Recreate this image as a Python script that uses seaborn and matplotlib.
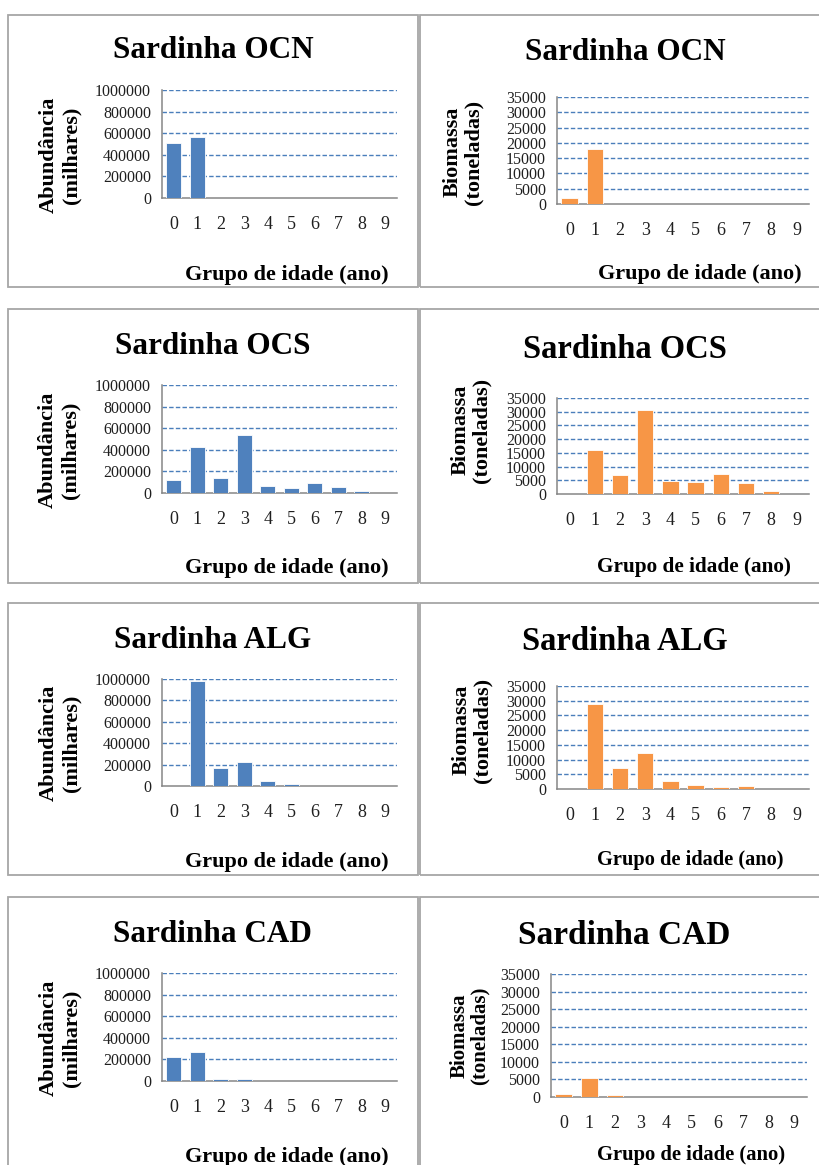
import matplotlib
matplotlib.use("Agg")
import matplotlib.pyplot as plt
from matplotlib.patches import Rectangle
import seaborn as sns
import numpy as np

# ---------------- data ----------------
ages = ["0", "1", "2", "3", "4", "5", "6", "7", "8", "9"]
regions = ["OCN", "OCS", "ALG", "CAD"]

ocn_abund = [512000, 562000, 0, 0, 0, 0, 0, 0, 0, 0]
ocn_biom = [2100, 17900, 0, 0, 0, 0, 0, 0, 0, 0]
ocs_abund = [124000, 425000, 140000, 537000, 65000, 50000, 90000, 53000, 15000, 1000]
ocs_biom = [0, 15900, 7100, 30600, 4750, 4400, 7300, 4000, 950, 0]
alg_abund = [0, 981000, 165000, 224000, 47000, 18000, 2000, 0, 0, 0]
alg_biom = [0, 29000, 7100, 12100, 2800, 1200, 650, 900, 0, 0]
cad_abund = [223000, 266000, 22000, 15000, 0, 0, 0, 0, 0, 0]
cad_biom = [750, 5300, 450, 0, 0, 0, 0, 0, 0, 0]

abund_ticks = [0, 200000, 400000, 600000, 800000, 1000000]
biom_ticks = [0, 5000, 10000, 15000, 20000, 25000, 30000, 35000]

title_prefix = "Sardinha"
abund_label = "Abundância\n(milhares)"
biom_label = "Biomassa\n(toneladas)"
xlabel_text = "Grupo de idade (ano)"

# ---------------- style ----------------
sns.set_style("white")
plt.rcParams["font.family"] = ["Liberation Serif", "DejaVu Serif"]

W, H = 819, 1165
fig = plt.figure(figsize=(W / 100, H / 100), dpi=100)
fig.patch.set_facecolor("white")

BLUE = "#4F81BD"
ORANGE = "#F79646"
GRID = "#4A7EBB"
AXC = "#868686"
TXT = "#1F1F1F"


def fbox(x0, y0, x1, y1):
    return [x0 / W, 1 - y1 / H, (x1 - x0) / W, (y1 - y0) / H]


# panel borders (pixel coords)
rows_y = [(15, 287), (309, 583), (603, 875), (897, 1175)]
for (y0, y1) in rows_y:
    fig.patches.append(Rectangle((8 / W, 1 - y1 / H), (418 - 8) / W, (y1 - y0) / H,
                                 transform=fig.transFigure, fill=False,
                                 edgecolor="#A6A6A6", lw=1.3))
    fig.patches.append(Rectangle((420 / W, 1 - y1 / H), (830 - 420) / W, (y1 - y0) / H,
                                 transform=fig.transFigure, fill=False,
                                 edgecolor="#A6A6A6", lw=1.3))

# axes boxes: (x0, ytop, x1, ybottom)
left_axes = [(162, 90, 397, 198), (162, 385, 397, 493), (162, 679, 397, 786), (162, 973, 397, 1081)]
right_axes = [(557, 97, 809, 204), (557, 398, 809, 494), (557, 686, 809, 789), (551, 974, 807, 1097)]

left_title = [(213, 51), (213, 347), (213, 640), (212, 935)]
right_title = [(625, 52), (625, 349), (625, 642), (624, 935)]
right_title_size = [22.5, 23.5, 23.5, 24]

left_xlab = [(287, 275), (287, 568), (287, 862), (287, 1157)]
right_xlab = [(700, 274), (694, 567), (690, 860), (691, 1155)]
right_xlab_size = [16, 15.3, 14.7, 14.9]

left_ylab = [(60, 155), (59, 450), (60, 743), (60, 1038)]
right_ylab = [(463, 152), (471, 430), (472, 730), (470, 1036)]
right_ylab_size = [16, 16, 16, 15]

abund_series = [ocn_abund, ocs_abund, alg_abund, cad_abund]
biom_series = [ocn_biom, ocs_biom, alg_biom, cad_biom]


def draw_panel(box, values, color, ticks, ymax):
    x0, yt, x1, yb = box
    ax = fig.add_axes(fbox(x0, yt, x1, yb))
    sns.barplot(x=ages, y=values, order=ages, color=color, saturation=1,
                width=0.65, edgecolor="white", linewidth=0.6, ax=ax, zorder=3)
    ax.set_xlim(-0.5, 9.5)
    ax.set_ylim(0, ymax)
    ax.set_yticks(ticks)
    ax.set_yticklabels([str(t) for t in ticks])
    for t in ticks[1:]:
        ax.axhline(t, color=GRID, lw=1.0, ls=(0, (3.2, 1.6)), zorder=1)
    ax.set_xticks(np.arange(10))
    ax.set_xticklabels(ages)
    ax.set_xticks(np.arange(-0.5, 10, 1.0), minor=True)
    ax.tick_params(axis="x", which="major", length=0, pad=13, labelsize=13, colors=TXT)
    ax.tick_params(axis="x", which="minor", length=5, width=1, color=AXC, direction="out")
    ax.tick_params(axis="y", length=5, width=1, color=AXC, direction="out", pad=3,
                   labelsize=11.5, labelcolor=TXT)
    for s in ["top", "right"]:
        ax.spines[s].set_visible(False)
    for s in ["left", "bottom"]:
        ax.spines[s].set_color(AXC)
        ax.spines[s].set_linewidth(1.1)
    ax.set_xlabel("")
    ax.set_ylabel("")
    ax.set_facecolor("none")
    ax.grid(False)
    return ax


for i, reg in enumerate(regions):
    draw_panel(left_axes[i], abund_series[i], BLUE, abund_ticks, 1000000)
    draw_panel(right_axes[i], biom_series[i], ORANGE, biom_ticks, 35000)

    tx, ty = left_title[i]
    fig.text(tx / W, 1 - ty / H, f"{title_prefix} {reg}", ha="center", va="center",
             fontsize=22.5, fontweight="bold", color="black")
    tx, ty = right_title[i]
    fig.text(tx / W, 1 - ty / H, f"{title_prefix} {reg}", ha="center", va="center",
             fontsize=right_title_size[i], fontweight="bold", color="black")

    lx, ly = left_xlab[i]
    fig.text(lx / W, 1 - ly / H, xlabel_text, ha="center", va="center",
             fontsize=16, fontweight="bold", color="black")
    lx, ly = right_xlab[i]
    fig.text(lx / W, 1 - ly / H, xlabel_text, ha="center", va="center",
             fontsize=right_xlab_size[i], fontweight="bold", color="black")

    yx, yy = left_ylab[i]
    fig.text(yx / W, 1 - yy / H, abund_label, ha="center", va="center", rotation=90,
             fontsize=16, fontweight="bold", color="black", linespacing=1.15,
             multialignment="center")
    yx, yy = right_ylab[i]
    fig.text(yx / W, 1 - yy / H, biom_label, ha="center", va="center", rotation=90,
             fontsize=right_ylab_size[i], fontweight="bold", color="black", linespacing=1.0,
             multialignment="center")

fig.savefig("out.png", dpi=100, facecolor="white")
